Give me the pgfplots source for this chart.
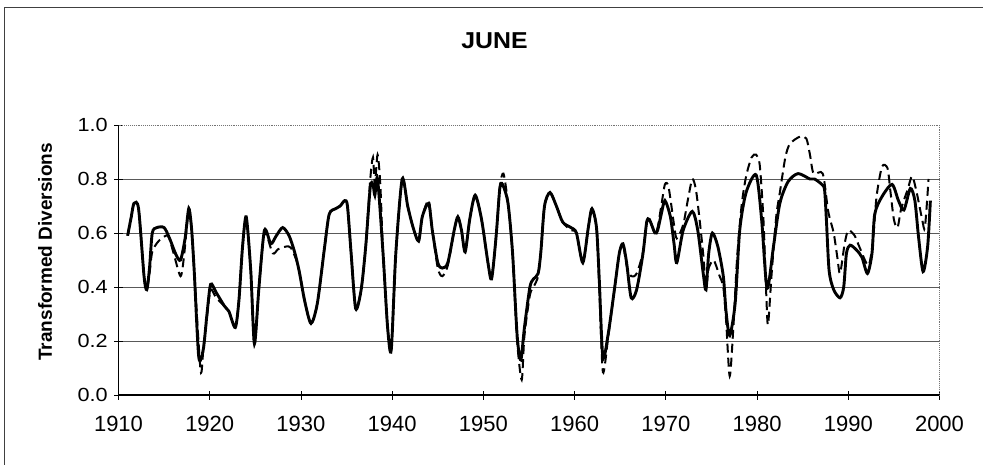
\documentclass[border=0pt]{standalone}
\usepackage{fontspec}
\setmainfont{Liberation Sans}
\usepackage{pgfplots}
\pgfplotsset{compat=1.18}

\begin{document}
\begin{tikzpicture}[x=1pt,y=1pt]
\useasboundingbox (0,0) rectangle (983,464);
% chart area frame
\draw[line width=0.9pt, black!75] (4,-2) -- (4,457) -- (985,457);
\begin{axis}[
  at={(118.5pt,69pt)}, anchor=south west,
  scale only axis, width=821pt, height=270pt,
  xmin=1910, xmax=2000, ymin=0, ymax=1,
  axis x line*=bottom, axis y line*=left,
  axis line style={-, black, line width=1.1pt},
  xtick={1910,1920,1930,1940,1950,1960,1970,1980,1990,2000},
  ytick={0,0.2,0.4,0.6,0.8},
  extra y ticks={1},
  extra y tick style={grid=none},
  ymajorgrids,
  grid style={black!65, line width=0.8pt},
  tick align=center,
  major tick length=9pt,
  tick style={black, line width=0.8pt},
  /pgf/number format/assume math mode=true,
  x tick label style={font=\fontsize{22}{24}\selectfont, yshift=-13pt, /pgf/number format/1000 sep={}},
  y tick label style={font=\fontsize{19}{21}\selectfont, xscale=1.14, xshift=-2pt, /pgf/number format/.cd, fixed, fixed zerofill, precision=1},
  title={JUNE},
  title style={font=\bfseries\fontsize{23}{27}\selectfont, xscale=1.08, at={(axis description cs:0.458,1.29)}, anchor=center},
  ylabel={Transformed Diversions},
  ylabel style={font=\bfseries\fontsize{19}{21}\selectfont, at={(axis description cs:-0.0895,0.53)}, anchor=center},
  clip=false,
]
% plot-area border (top and right)
\draw[black!55, densely dotted, line width=0.9pt] (rel axis cs:0,1) -- (rel axis cs:1,1) -- (rel axis cs:1,0);

% second series (dashed)
\addplot[black, line width=2pt, dash pattern=on 9pt off 5pt, smooth, tension=0.45] coordinates {
(1911.0,0.59) (1911.4,0.66) (1911.7,0.71) (1912.2,0.69) (1912.8,0.44) (1913.1,0.39)
(1913.4,0.45) (1913.7,0.53) (1914.4,0.57) (1915.4,0.59) (1916.0,0.53) (1916.8,0.44)
(1917.2,0.52) (1917.7,0.69) (1918.0,0.62) (1918.3,0.46) (1919.0,0.09) (1919.3,0.17)
(1919.7,0.29) (1920.1,0.39) (1920.7,0.36) (1921.6,0.33) (1922.1,0.31) (1922.8,0.25)
(1923.2,0.35) (1923.6,0.55) (1924.0,0.66) (1924.5,0.46) (1924.9,0.19) (1925.4,0.40)
(1926.0,0.60) (1926.9,0.525) (1927.5,0.54) (1928.4,0.55) (1928.9,0.545) (1929.5,0.50)
(1929.8,0.46) (1930.4,0.35) (1931.1,0.265) (1931.8,0.34) (1932.6,0.55) (1933.1,0.67)
(1933.8,0.69) (1934.3,0.70) (1934.8,0.72) (1935.1,0.70) (1935.5,0.525) (1936.0,0.32)
(1936.6,0.39) (1937.1,0.55) (1937.6,0.80) (1937.9,0.88) (1938.1,0.78) (1938.4,0.89)
(1938.7,0.78) (1939.0,0.525) (1939.5,0.25) (1939.9,0.167) (1940.4,0.525) (1941.1,0.80)
(1941.7,0.70) (1942.3,0.62) (1942.9,0.57) (1943.3,0.66) (1944.0,0.72) (1944.4,0.61)
(1945.0,0.47) (1945.5,0.44) (1946.1,0.48) (1946.8,0.61) (1947.2,0.66) (1947.6,0.61)
(1948.0,0.53) (1948.5,0.65) (1949.1,0.74) (1949.8,0.65) (1950.5,0.49) (1950.9,0.43)
(1951.4,0.59) (1951.8,0.77) (1952.2,0.82) (1952.7,0.71) (1953.2,0.525) (1953.7,0.20)
(1954.2,0.056) (1954.5,0.22) (1955.1,0.37) (1955.5,0.40) (1956.0,0.44) (1956.3,0.53)
(1956.7,0.70) (1957.3,0.75) (1958.0,0.70) (1958.7,0.64) (1959.6,0.61) (1960.2,0.60)
(1960.9,0.49) (1961.5,0.62) (1961.9,0.69) (1962.4,0.62) (1962.7,0.40) (1963.1,0.085)
(1963.7,0.22) (1964.4,0.40) (1964.9,0.525) (1965.3,0.56) (1965.7,0.48) (1966.2,0.44)
(1966.8,0.45) (1967.5,0.53) (1967.9,0.64) (1968.2,0.65) (1968.8,0.60) (1969.1,0.62)
(1969.5,0.70) (1969.9,0.78) (1970.3,0.77) (1970.9,0.63) (1971.2,0.58) (1971.9,0.63)
(1972.4,0.72) (1972.9,0.80) (1973.3,0.76) (1973.7,0.65) (1974.1,0.52) (1974.4,0.40)
(1974.7,0.47) (1975.2,0.50) (1975.5,0.48) (1975.9,0.44) (1976.3,0.40) (1976.6,0.28)
(1977.0,0.07) (1977.4,0.25) (1977.8,0.50) (1978.3,0.70) (1978.8,0.81) (1979.4,0.88)
(1979.9,0.89) (1980.3,0.85) (1980.7,0.65) (1981.0,0.38) (1981.2,0.26) (1981.6,0.45)
(1982.1,0.66) (1982.5,0.75) (1983.1,0.88) (1983.6,0.93) (1984.7,0.957) (1985.4,0.95)
(1985.8,0.89) (1986.2,0.82) (1987.2,0.82) (1987.8,0.68) (1988.4,0.60) (1988.8,0.51)
(1989.1,0.45) (1989.6,0.56) (1990.0,0.61) (1990.7,0.59) (1991.2,0.55) (1992.2,0.48)
(1992.7,0.57) (1993.1,0.735) (1993.7,0.846) (1994.3,0.84) (1994.6,0.76) (1995.0,0.65)
(1995.4,0.62) (1995.8,0.69) (1996.5,0.76) (1997.0,0.81) (1997.5,0.75) (1998.1,0.65)
(1998.4,0.62) (1998.8,0.80)
};

% first series (solid)
\addplot[black, line width=2.9pt, smooth, tension=0.45] coordinates {
(1911.0,0.59) (1911.4,0.66) (1911.7,0.71) (1912.2,0.69) (1912.8,0.44) (1913.1,0.39)
(1913.4,0.47) (1913.7,0.60) (1914.2,0.62) (1915.0,0.62) (1915.6,0.58) (1916.3,0.52)
(1916.8,0.50) (1917.3,0.58) (1917.7,0.69) (1918.0,0.62) (1918.3,0.46) (1918.8,0.14)
(1919.3,0.17) (1919.7,0.30) (1920.1,0.41) (1920.7,0.38) (1921.6,0.33) (1922.1,0.31)
(1922.8,0.25) (1923.2,0.35) (1923.6,0.55) (1924.0,0.66) (1924.5,0.46) (1924.9,0.19)
(1925.4,0.40) (1926.0,0.61) (1926.7,0.56) (1927.3,0.59) (1928.0,0.62) (1928.7,0.59)
(1929.3,0.53) (1929.8,0.46) (1930.4,0.35) (1931.1,0.265) (1931.8,0.34) (1932.6,0.55)
(1933.1,0.67) (1933.8,0.69) (1934.3,0.70) (1934.8,0.72) (1935.1,0.70) (1935.5,0.525)
(1936.0,0.32) (1936.6,0.39) (1937.1,0.55) (1937.6,0.77) (1937.9,0.78) (1938.1,0.74)
(1938.4,0.80) (1939.0,0.525) (1939.5,0.25) (1939.9,0.167) (1940.4,0.525) (1941.1,0.80)
(1941.7,0.70) (1942.3,0.62) (1942.9,0.57) (1943.3,0.66) (1944.0,0.71) (1944.4,0.61)
(1945.0,0.49) (1945.5,0.47) (1946.1,0.49) (1946.8,0.61) (1947.2,0.66) (1947.6,0.61)
(1948.0,0.53) (1948.5,0.65) (1949.1,0.74) (1949.8,0.65) (1950.5,0.49) (1950.9,0.43)
(1951.4,0.59) (1951.8,0.765) (1952.1,0.78) (1952.7,0.71) (1953.2,0.525) (1953.7,0.22)
(1954.1,0.13) (1954.5,0.25) (1955.1,0.40) (1955.5,0.43) (1956.0,0.45) (1956.3,0.53)
(1956.7,0.70) (1957.3,0.75) (1958.0,0.70) (1958.7,0.64) (1959.6,0.62) (1960.2,0.60)
(1960.9,0.49) (1961.5,0.62) (1961.9,0.69) (1962.4,0.62) (1962.7,0.43) (1963.1,0.14)
(1963.7,0.23) (1964.4,0.40) (1964.9,0.525) (1965.3,0.56) (1965.7,0.49) (1966.2,0.36)
(1966.8,0.39) (1967.5,0.525) (1967.9,0.64) (1968.2,0.65) (1968.8,0.60) (1969.1,0.61)
(1969.5,0.67) (1969.9,0.72) (1970.5,0.66) (1970.9,0.56) (1971.2,0.49) (1971.9,0.61)
(1972.9,0.68) (1973.5,0.61) (1974.1,0.45) (1974.4,0.39) (1974.7,0.525) (1975.1,0.60)
(1975.7,0.55) (1976.3,0.44) (1976.6,0.31) (1977.0,0.22) (1977.6,0.34) (1978.1,0.61)
(1978.8,0.75) (1979.9,0.815) (1980.5,0.65) (1981.1,0.395) (1981.8,0.55) (1982.5,0.71)
(1983.4,0.79) (1984.5,0.82) (1985.8,0.80) (1986.3,0.80) (1987.1,0.78) (1987.4,0.76)
(1987.6,0.65) (1987.9,0.46) (1988.4,0.39) (1989.1,0.36) (1989.5,0.40) (1989.8,0.525)
(1990.2,0.555) (1990.9,0.537) (1991.5,0.51) (1992.1,0.45) (1992.6,0.525) (1992.9,0.67)
(1993.7,0.735) (1994.8,0.78) (1995.5,0.72) (1996.1,0.685) (1996.8,0.765) (1997.3,0.72)
(1997.7,0.586) (1998.2,0.457) (1998.7,0.55) (1999.0,0.72)
};
\end{axis}
\end{tikzpicture}
\end{document}
